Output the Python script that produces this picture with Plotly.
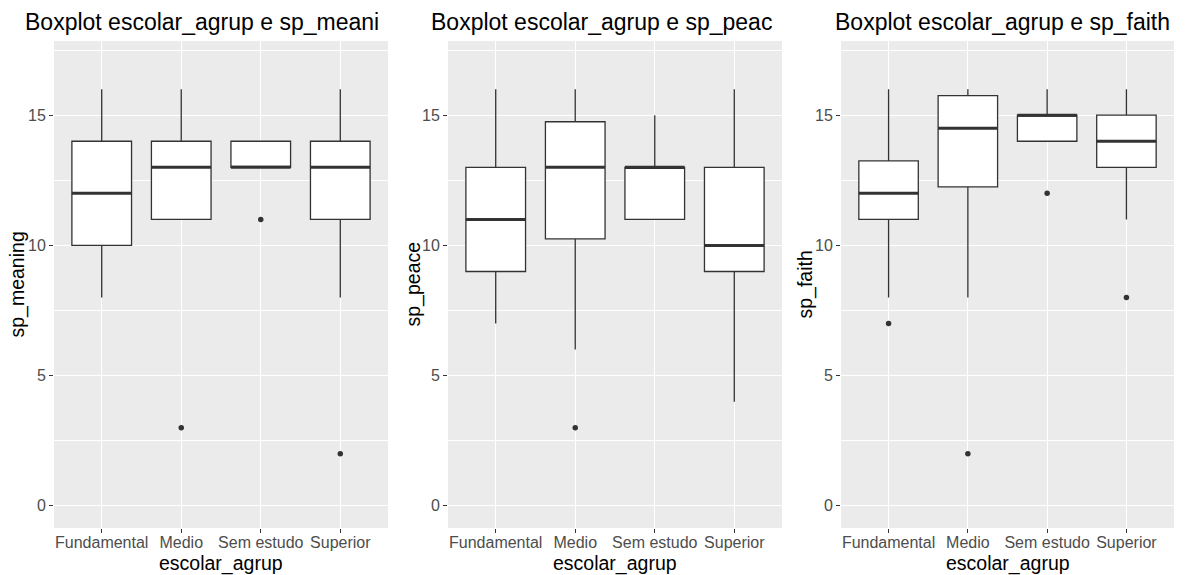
import plotly.graph_objects as go

categories = ["Fundamental", "Medio", "Sem estudo", "Superior"]

# sp_meaning
meaning_lower = [8, 11, 13, 8]
meaning_q1 = [10, 11, 13, 11]
meaning_median = [12, 13, 13, 13]
meaning_q3 = [14, 14, 14, 14]
meaning_upper = [16, 16, 14, 16]
meaning_out_cat = ["Medio", "Sem estudo", "Superior"]
meaning_out_val = [3, 11, 2]

# sp_peace
peace_lower = [7, 6, 11, 4]
peace_q1 = [9, 10.25, 11, 9]
peace_median = [11, 13, 13, 10]
peace_q3 = [13, 14.75, 13, 13]
peace_upper = [16, 16, 15, 16]
peace_out_cat = ["Medio"]
peace_out_val = [3]

# sp_faith
faith_lower = [8, 8, 14, 11]
faith_q1 = [11, 12.25, 14, 13]
faith_median = [12, 14.5, 15, 14]
faith_q3 = [13.25, 15.75, 15, 15]
faith_upper = [16, 16, 16, 16]
faith_out_cat = ["Fundamental", "Medio", "Sem estudo", "Superior"]
faith_out_val = [7, 2, 12, 8]

titles = ["Boxplot escolar_agrup e sp_meani", "Boxplot escolar_agrup e sp_peac",
          "Boxplot escolar_agrup e sp_faith"]
y_titles = ["sp_meaning", "sp_peace", "sp_faith"]
x_title = "escolar_agrup"

panels = [
    (meaning_lower, meaning_q1, meaning_median, meaning_q3, meaning_upper, meaning_out_cat, meaning_out_val),
    (peace_lower, peace_q1, peace_median, peace_q3, peace_upper, peace_out_cat, peace_out_val),
    (faith_lower, faith_q1, faith_median, faith_q3, faith_upper, faith_out_cat, faith_out_val),
]

W, H = 1195, 575
FONT = "Liberation Sans, Arial, sans-serif"
panel_x = [(54, 388), (448, 782), (841, 1174)]
panel_top, panel_bot = 41, 528
title_left = [23, 429, 833]
ytitle_x = [17, 413, 805]
BW = 0.75
LINE = "#333333"

fig = go.Figure()
pos = list(range(len(categories)))

for i, (lo, q1, med, q3, up, oc, ov) in enumerate(panels):
    xa = "x" if i == 0 else f"x{i+1}"
    ya = "y" if i == 0 else f"y{i+1}"
    fig.add_trace(go.Box(
        x=pos, q1=q1, median=med, q3=q3, lowerfence=lo, upperfence=up,
        width=BW, whiskerwidth=0, fillcolor="white",
        line=dict(color=LINE, width=1.3), boxpoints=False,
        xaxis=xa, yaxis=ya, showlegend=False, hoverinfo="skip"))
    mx, my = [], []
    for p, m in zip(pos, med):
        mx += [p - BW / 2, p + BW / 2, None]
        my += [m, m, None]
    fig.add_trace(go.Scatter(x=mx, y=my, mode="lines", line=dict(color=LINE, width=3),
                             xaxis=xa, yaxis=ya, showlegend=False, hoverinfo="skip"))
    fig.add_trace(go.Scatter(x=[categories.index(c) for c in oc], y=ov, mode="markers",
                             marker=dict(color=LINE, size=5.5),
                             xaxis=xa, yaxis=ya, showlegend=False, hoverinfo="skip"))

    x0, x1 = panel_x[i]
    xkey = "xaxis" if i == 0 else f"xaxis{i+1}"
    ykey = "yaxis" if i == 0 else f"yaxis{i+1}"
    fig.update_layout(**{
        xkey: dict(domain=[x0 / W, x1 / W], anchor=ya, range=[-0.6, 3.6],
                   tickvals=pos, ticktext=categories, showgrid=True, gridcolor="white",
                   gridwidth=1.3, zeroline=False, ticks="outside", ticklen=4,
                   tickcolor=LINE, tickwidth=1, ticklabelstandoff=-4,
                   tickfont=dict(family=FONT, size=16, color="#4d4d4d")),
        ykey: dict(domain=[1 - panel_bot / H, 1 - panel_top / H], anchor=xa,
                   range=[-0.85, 17.85], tickvals=[0, 5, 10, 15], showgrid=True,
                   gridcolor="white", gridwidth=1.3, zeroline=False, ticks="outside",
                   ticklen=4, tickcolor=LINE, tickwidth=1,
                   tickfont=dict(family=FONT, size=16, color="#4d4d4d"),
                   minor=dict(tickvals=[2.5, 7.5, 12.5, 17.5], showgrid=True,
                              gridcolor="white", gridwidth=0.6, ticks="")),
    })
    fig.add_annotation(text=titles[i], x=title_left[i] / W, y=1 - 22 / H, xref="paper", yref="paper",
                       xanchor="left", yanchor="middle", showarrow=False,
                       font=dict(family=FONT, size=23, color="black"))
    fig.add_annotation(text=y_titles[i], x=ytitle_x[i] / W, y=1 - (panel_top + panel_bot) / 2 / H,
                       xref="paper", yref="paper", xanchor="center", yanchor="middle",
                       textangle=-90, showarrow=False,
                       font=dict(family=FONT, size=19.5, color="black"))
    fig.add_annotation(text=x_title, x=(x0 + x1) / 2 / W, y=1 - 563 / H, xref="paper", yref="paper",
                       xanchor="center", yanchor="middle", showarrow=False,
                       font=dict(family=FONT, size=19.5, color="black"))

fig.update_layout(width=W, height=H, margin=dict(l=0, r=0, t=0, b=0),
                  paper_bgcolor="white", plot_bgcolor="#EBEBEB", showlegend=False,
                  boxmode="overlay")

fig.write_html("out.html")
